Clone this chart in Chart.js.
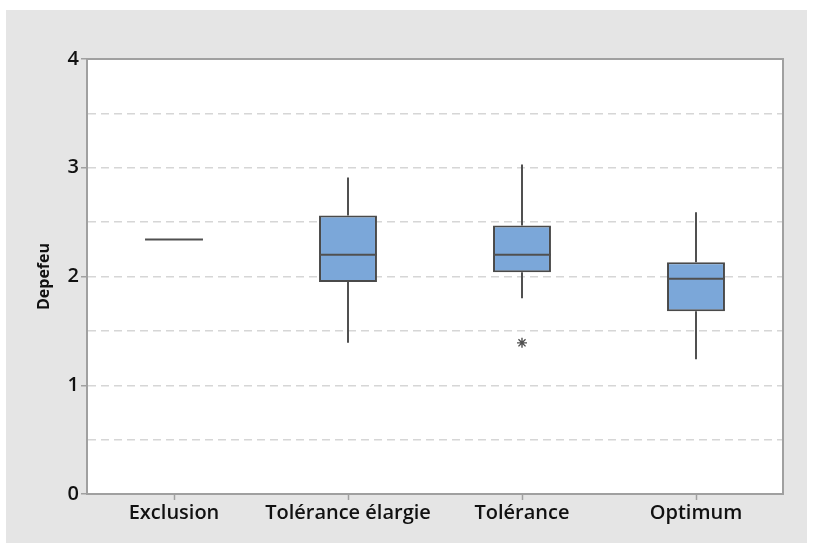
<!DOCTYPE html>
<html>
<head>
<meta charset="utf-8">
<script src="https://cdn.jsdelivr.net/npm/chart.js@4.4.1/dist/chart.umd.min.js"></script>
<style>
    body { margin: 0; background: #ffffff; }
    #panel { position: absolute; left: 6px; top: 10px; width: 801px; height: 533px; background: #e5e5e5; }
</style>
</head>
<body>
<div id="panel"><canvas id="boxChart" width="801" height="533"></canvas></div>
<script>
const categories = ['Exclusion', 'Tolérance élargie', 'Tolérance', 'Optimum'];
const q1 = [null, 1.95, 2.04, 1.68];
const q3 = [null, 2.56, 2.47, 2.13];
const medians = [2.34, 2.20, 2.20, 1.98];
const whiskerLow = [null, 1.39, 1.80, 1.24];
const whiskerHigh = [null, 2.91, 3.03, 2.59];
const outliers = [null, null, 1.39, null];
const yTicks = [0, 1, 2, 3, 4];

const axisGray = '#a0a0a0';
const lineDark = '#505050';

// white plot area, whiskers and medians, drawn with the library's scales
const boxExtras = {
    id: 'boxExtras',
    beforeDraw(chart) {
        const { ctx, chartArea } = chart;
        ctx.save();
        ctx.fillStyle = '#ffffff';
        ctx.fillRect(chartArea.left, chartArea.top, chartArea.right - chartArea.left, chartArea.bottom - chartArea.top);
        ctx.restore();
    },
    beforeDatasetsDraw(chart) {
        const { ctx, scales: { x, y } } = chart;
        ctx.save();
        ctx.strokeStyle = lineDark;
        ctx.lineWidth = 2;
        categories.forEach((c, i) => {
            if (whiskerLow[i] == null) return;
            const px = Math.round(x.getPixelForValue(i));
            ctx.beginPath();
            ctx.moveTo(px, y.getPixelForValue(whiskerHigh[i]));
            ctx.lineTo(px, y.getPixelForValue(q3[i]));
            ctx.moveTo(px, y.getPixelForValue(q1[i]));
            ctx.lineTo(px, y.getPixelForValue(whiskerLow[i]));
            ctx.stroke();
        });
        ctx.restore();
    },
    afterDatasetsDraw(chart) {
        const { ctx, scales: { x, y }, chartArea } = chart;
        const half = x.width / categories.length * 0.333 / 2;
        ctx.save();
        ctx.strokeStyle = lineDark;
        ctx.lineWidth = 2;
        categories.forEach((c, i) => {
            const px = x.getPixelForValue(i);
            const py = y.getPixelForValue(medians[i]);
            ctx.beginPath();
            ctx.moveTo(px - half, py);
            ctx.lineTo(px + half, py);
            ctx.stroke();
        });
        // frame around plot
        ctx.strokeStyle = axisGray;
        ctx.lineWidth = 2;
        ctx.strokeRect(chartArea.left, chartArea.top, chartArea.right - chartArea.left, chartArea.bottom - chartArea.top);
        ctx.restore();
    }
};

const ctx = document.getElementById('boxChart').getContext('2d');
new Chart(ctx, {
    type: 'bar',
    data: {
        labels: categories,
        datasets: [{
            label: 'IQR',
            data: q1.map((v, i) => v == null ? null : [v, q3[i]]),
            backgroundColor: '#7ba7d9',
            borderColor: '#4a4a4a',
            borderWidth: 2,
            borderSkipped: false,
            barPercentage: 0.333,
            categoryPercentage: 1.0
        }, {
            type: 'line',
            label: 'Outlier',
            data: outliers,
            showLine: false,
            pointStyle: 'star',
            pointRadius: 5,
            pointBorderWidth: 1.4,
            pointBorderColor: lineDark,
            pointBackgroundColor: lineDark
        }]
    },
    options: {
        responsive: false,
        animation: false,
        layout: { padding: { top: 49, right: 24, left: 0, bottom: 0 } },
        plugins: {
            legend: { display: false },
            tooltip: { enabled: false }
        },
        scales: {
            x: {
                afterFit: (scale) => { scale.height = 49; },
                grid: {
                    offset: false,
                    drawOnChartArea: false,
                    tickLength: 6,
                    tickColor: axisGray,
                    tickWidth: 1.5
                },
                border: { color: axisGray, width: 2 },
                ticks: {
                    color: '#111111',
                    font: { family: 'Open Sans', size: 20, weight: '600' },
                    padding: 1
                }
            },
            y: {
                min: 0,
                max: 4,
                afterFit: (scale) => { scale.width = 81; },
                ticks: {
                    stepSize: 0.5,
                    color: '#111111',
                    font: { family: 'Open Sans', size: 20, weight: '600' },
                    padding: 2,
                    callback: (v) => yTicks.includes(v) ? v : ''
                },
                grid: {
                    color: (c) => (c.tick && (c.tick.value === 0 || c.tick.value === 4)) ? 'rgba(0,0,0,0)' : '#d6d6d6',
                    lineWidth: 1.5,
                    tickColor: (c) => yTicks.includes(c.tick.value) ? axisGray : 'rgba(0,0,0,0)',
                    tickLength: 6,
                    tickBorderDash: [],
                    tickWidth: 1.5
                },
                border: { color: axisGray, width: 2, dash: [8, 5] },
                title: {
                    display: true,
                    text: 'Depefeu',
                    color: '#111111',
                    font: { family: 'Open Sans', size: 16, weight: '700' },
                    padding: { top: 29, bottom: 0 }
                }
            }
        }
    },
    plugins: [boxExtras]
});
</script>
</body>
</html>
